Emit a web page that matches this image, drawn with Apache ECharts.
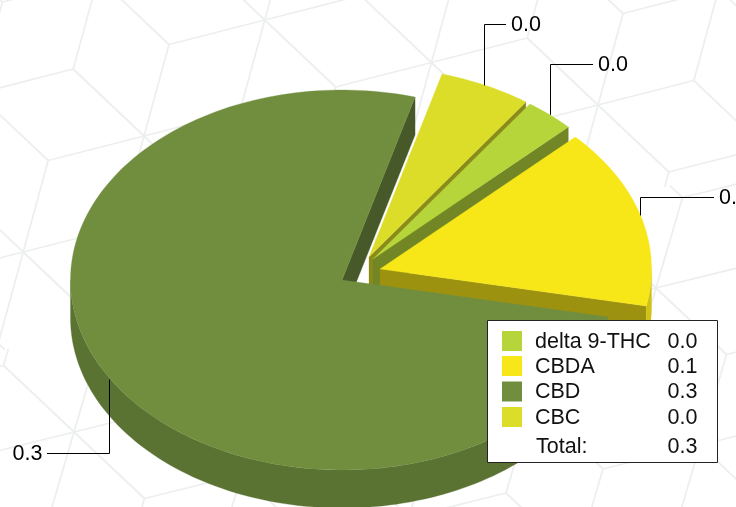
<!DOCTYPE html>
<html><head><meta charset="utf-8">
<style>html,body{margin:0;padding:0;background:#fff}#c{width:736px;height:507px}</style>
<script src="https://cdn.jsdelivr.net/npm/echarts@6/dist/echarts.min.js"></script>
</head><body><div id="c"></div>
<script>
const names = ['delta 9-THC', 'CBDA', 'CBD', 'CBC'];
const values = [0.0101, 0.0522, 0.2591, 0.0186];
const colors = ['#b6d53a', '#f7e718', '#718e3f', '#dbdd28'];
const totalLabel = 'Total:';

const startAngle = 35.3;
const RX = 271.5, RY = 190, DEPTH = 38;
const apex = [[373, 259], [380, 269], [342, 280], [369, 257]];
const leaderEnd = [[593, 64], [714, 197], [47, 453], [506, 24]];
const leaderNudge = [0, 0, -2, -2];
const layer = [20, 30, 0, 10];
const total = values.reduce((a, b) => a + b, 0);
const fmt = v => v.toFixed(1);

function shade(hex, f) {
  const n = parseInt(hex.slice(1), 16);
  return 'rgb(' + [n >> 16 & 255, n >> 8 & 255, n & 255].map(c => Math.round(c * f)).join(',') + ')';
}
const rad = d => d * Math.PI / 180;
function arc(c, a, b, dy) {
  const pts = [], n = Math.max(2, Math.ceil(Math.abs(b - a) / 1.5));
  for (let k = 0; k <= n; k++) {
    const t = rad(a + (b - a) * k / n);
    pts.push([c[0] + RX * Math.sin(t), c[1] - RY * Math.cos(t) + dy]);
  }
  return pts;
}
function renderItem(params, api) {
  const i = params.dataIndex;
  let before = 0;
  for (let k = 0; k < i; k++) before += values[k];
  const t0 = startAngle + before / total * 360;
  const t1 = t0 + api.value(1) / total * 360;
  const c = apex[i], col = colors[i], z = layer[i];
  const kids = [];
  const poly = (points, fill, z2) => kids.push({ type: 'polygon', z2, shape: { points }, style: { fill, stroke: fill, lineWidth: 0.3 } });
  const e1 = arc(c, t1, t1, 0)[0];
  poly([c, e1, [e1[0], e1[1] + DEPTH], [c[0], c[1] + DEPTH]], shade(col, 0.63), z);
  const w0 = Math.max(t0, 90), w1 = Math.min(t1, 270);
  if (w1 > w0) {
    poly(arc(c, w0, w1, 0).concat(arc(c, w1, w0, DEPTH)), shade(col, i === 2 ? 0.8 : 0.84), z + 1);
  }
  poly([c].concat(arc(c, t0, t1, 0)), col, i === 2 ? 50 : z + 2);
  const m = arc(c, (t0 + t1) / 2, (t0 + t1) / 2, 0)[0];
  const end = leaderEnd[i];
  const lx = Math.round(m[0] + leaderNudge[i]) + 0.5;
  kids.push({ type: 'polyline', z2: 60, shape: { points: [[lx, m[1]], [lx, end[1] + 0.5], [end[0], end[1] + 0.5]] }, style: { fill: 'none', stroke: '#000', lineWidth: 1 } });
  const left = end[0] < m[0];
  kids.push({ type: 'text', z2: 60, style: { text: fmt(api.value(1)), x: end[0] + (left ? -4.5 : 5), y: end[1] + 1, align: left ? 'right' : 'left', verticalAlign: 'middle', fill: '#000', font: '21.5px "Liberation Sans"' } });
  return { type: 'group', children: kids };
}

// faint cube pattern behind the chart: two patches meeting along a seam
const bg = [];
const seamY = x => 351 - 0.247 * x;
function addLattice(P, V, W, above) {
  const pt = (i, j) => [P[0] + i * V[0] + j * W[0], P[1] + i * V[1] + j * W[1]];
  const keep = p => above ? p[1] <= seamY(p[0]) : p[1] >= seamY(p[0]);
  for (let i = -12; i <= 14; i++) for (let j = -12; j <= 14; j++) {
    if (((i - j) % 3 + 3) % 3 !== 0) continue;
    [[1, 0], [-1, 0], [0, 1], [0, -1], [1, -1], [-1, 1]].forEach(d => {
      let a = pt(i, j), b = pt(i + d[0], j + d[1]);
      const ka = keep(a), kb = keep(b);
      if (!ka && !kb) return;
      if (ka !== kb) {
        const fa = a[1] - seamY(a[0]), fb = b[1] - seamY(b[0]), s = fa / (fa - fb);
        const q = [a[0] + (b[0] - a[0]) * s, a[1] + (b[1] - a[1]) * s];
        if (ka) b = q; else a = q;
      }
      bg.push({ type: 'line', z: -10, silent: true, shape: { x1: a[0], y1: a[1], x2: b[0], y2: b[1] }, style: { stroke: '#edefef', lineWidth: 1.8 } });
    });
  }
}
addLattice([144, 136], [70.8, 67], [-25, 91.5], true);
addLattice([153.5, 160.5], [70.5, 66.5], [-26.5, 90.5], false);

// legend box
const LF = '21.5px "Liberation Sans"';
const lg = [{ type: 'rect', z: 100, shape: { x: 487.5, y: 320.5, width: 230, height: 142 }, style: { fill: '#fff', stroke: '#222', lineWidth: 1 } }];
const rowY = [341, 366, 391.5, 417];
names.forEach((n, i) => {
  lg.push({ type: 'rect', z: 101, shape: { x: 502, y: rowY[i] - 10, width: 20, height: 20 }, style: { fill: colors[i] } });
  lg.push({ type: 'text', z: 101, style: { text: n, x: 535, y: rowY[i] + 1, verticalAlign: 'middle', fill: '#111', font: LF } });
  lg.push({ type: 'text', z: 101, style: { text: fmt(values[i]), x: 667.5, y: rowY[i] + 1, verticalAlign: 'middle', fill: '#111', font: LF } });
});
lg.push({ type: 'text', z: 101, style: { text: totalLabel, x: 536, y: 447, verticalAlign: 'middle', fill: '#111', font: LF } });
lg.push({ type: 'text', z: 101, style: { text: fmt(total), x: 667.5, y: 447, verticalAlign: 'middle', fill: '#111', font: LF } });

const chart = echarts.init(document.getElementById('c'), null, { renderer: 'canvas' });
chart.setOption({
  animation: false,
  backgroundColor: '#fff',
  graphic: { elements: bg.concat(lg) },
  series: [{ type: 'custom', coordinateSystem: 'none', silent: true, z: 5, clip: false, renderItem, data: names.map((n, i) => ({ name: n, value: [i, values[i]] })) }]
});
</script></body></html>
